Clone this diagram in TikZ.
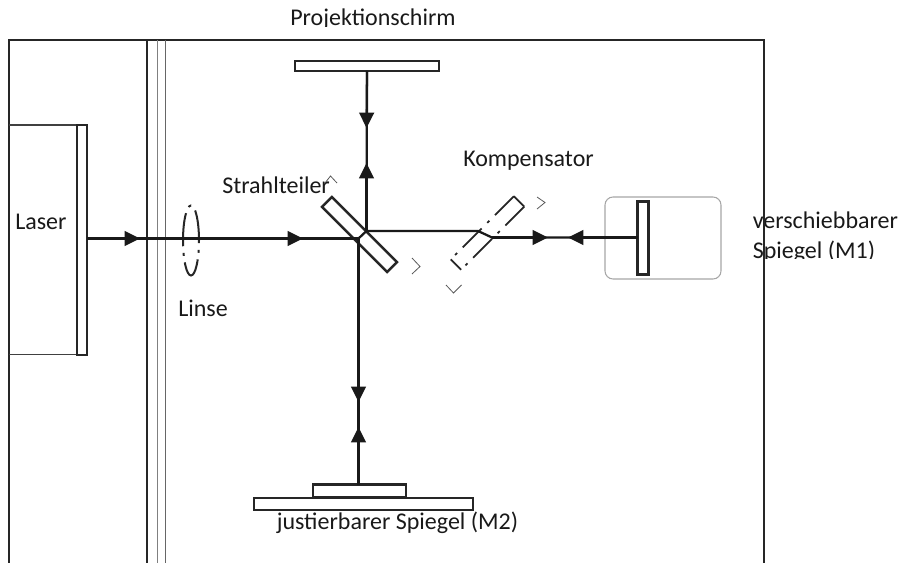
\documentclass[tikz,border=0pt]{standalone}
\usepackage{fontspec}
\setmainfont{Carlito}
\usetikzlibrary{arrows.meta}
\tikzset{
  frameline/.style={line width=1.5pt,color=black!85},
  mirror/.style={draw=black!85,line width=1.8pt,fill=white,inner sep=0pt,outer sep=0pt},
  beam/.style={line width=1.7pt,color=black!90},
  beamtip/.style={beam,-{Triangle[length=11.5pt,width=11pt]}},
  dashdot/.style={line width=1.4pt,color=black!85,dash pattern=on 20pt off 6pt on 2.2pt off 6pt},
  chevron/.style={line width=0.6pt,color=black!65},
  label/.style={anchor=base west,inner sep=0pt,font=\fontsize{18}{22}\selectfont,color=black!90}
}

\begin{document}
\begin{tikzpicture}[x=0.75pt,y=0.75pt,yscale=-1,xscale=1]
\useasboundingbox (0,0) rectangle (901,563);

% Clipped Text Node
\begin{scope}
\clip (740,236) rectangle (901,258.5);
\draw (752.5,258.5) node (labelMb) [label] {Spiegel (M1)};
\end{scope}
% Text Node
\draw (752.5,229) node (labelMa) [label] {verschiebbarer};
% Clipped Text Node
\begin{scope}
\clip (280,0) rectangle (480,26.5);
\draw (290,26) node (labelScreen) [label] {Projektionschirm};
\end{scope}

% Frame
\draw [frameline] (9,563) -- (9,40) -- (764,40) -- (764,563);
% Wall
\draw [line width=1.7pt,color=black!85] (147,40) -- (147,563);
\draw [line width=0.6pt,color=black!50] (157,40) -- (157,563);
\draw [line width=0.9pt,color=black!60] (165.5,40) -- (165.5,563);
% Laser
\draw [line width=1pt,color=black!75] (9,125) -- (77,125);
\draw [line width=1pt,color=black!75] (9,354.5) -- (77,354.5);
\node (laserPlate) [mirror,minimum width=7.5pt,minimum height=172.5pt] at (82,240) {};
% Slide
\node (slide) [draw=black!35,line width=0.8pt,rounded corners=6pt,minimum width=87pt,minimum height=61.5pt,inner sep=0pt] at (663,238) {};

% Lens
\draw [line width=1.5pt,color=black!85,dash pattern=on 25pt off 5pt on 2.2pt off 5pt,dash phase=23pt] (191,240.5) ellipse (8 and 35);

% Named points
\coordinate (tipA) at (140,238.5);
\coordinate (tipB) at (303,238.5);
\coordinate (splitLow) at (358.5,238.5);
\coordinate (splitHigh) at (366.5,231);
\coordinate (compIn) at (478,231);
\coordinate (compOut) at (492,237.5);
\coordinate (tipC) at (548,237.5);
\coordinate (tipD) at (568,237.5);
\coordinate (tipE) at (366.5,163);
\coordinate (tipF) at (366.5,128);
\coordinate (tipG) at (358.5,402);
\coordinate (tipH) at (358.5,427);

% Mirrors
\node (screen) [mirror,minimum width=108pt,minimum height=7.5pt] at (367,66) {};
\node (mirrorOne) [mirror,minimum width=8pt,minimum height=55pt] at (643,238) {};
\node (plateTwo) [mirror,minimum width=164pt,minimum height=9pt] at (363.5,504) {};
\node (holderTwo) [mirror,minimum width=69.5pt,minimum height=9.5pt] at (359.5,491) {};
\node (splitter) [mirror,fill=none,rotate=-45,minimum width=69pt,minimum height=10.5pt] at (359.5,234.5) {};
\node (comp) [inner sep=0pt,outer sep=0pt,rotate=45,minimum width=67pt,minimum height=11pt] at (487.5,233) {};

% Compensator
\draw [line width=1.4pt,color=black!85,line join=miter] (comp.north east) -- (comp.south east);
\draw [line width=1.4pt,color=black!85] (comp.south west) -- (comp.north west);
\draw [dashdot] (comp.north east) -- (comp.north west);
\draw [dashdot] (comp.south east) -- (comp.south west);

% Connection
\draw [beam] (laserPlate.east |- tipA) -- (splitLow);
\draw [beam] (splitLow) -- (splitHigh);
\draw [beam] (splitHigh) -- (compIn) -- (compOut) -- (mirrorOne.west |- compOut);
\draw [beam] (splitHigh) -- (screen.south);
\draw [beam] (splitLow) -- (holderTwo.north -| splitLow);
% Arrow heads
\draw [beamtip] (laserPlate.east |- tipA) -- (tipA);
\draw [beamtip] (tipA) -- (tipB);
\draw [beamtip] (compOut) -- (tipC);
\draw [beamtip] (mirrorOne.west |- tipD) -- (tipD);
\draw [beamtip] (splitHigh) -- (tipE);
\draw [beamtip] (screen.south) -- (tipF);
\draw [beamtip] (splitLow) -- (tipG);
\draw [beamtip] (holderTwo.north -| tipH) -- (tipH);

% Chevrons
\draw [chevron] (412,258) -- (420,266.5) -- (412,274);
\draw [chevron] (537,197) -- (545,202.5) -- (537,209);
\draw [chevron] (446,285) -- (453.5,293) -- (461.5,285);
\draw [chevron] (325,183) -- (330.5,176) -- (337,183);

% Text Node
\draw (463,167) node (labelComp) [label] {Kompensator};
% Text Node
\draw (222,193.5) node (labelSplit) [label] {Strahlteiler};
% Text Node
\draw (15,230) node (labelLaser) [label] {Laser};
% Text Node
\draw (178,317) node (labelLens) [label] {Linse};
% Text Node
\draw (276.5,529) node (labelTwo) [label] {justierbarer Spiegel (M2)};

\end{tikzpicture}
\end{document}
